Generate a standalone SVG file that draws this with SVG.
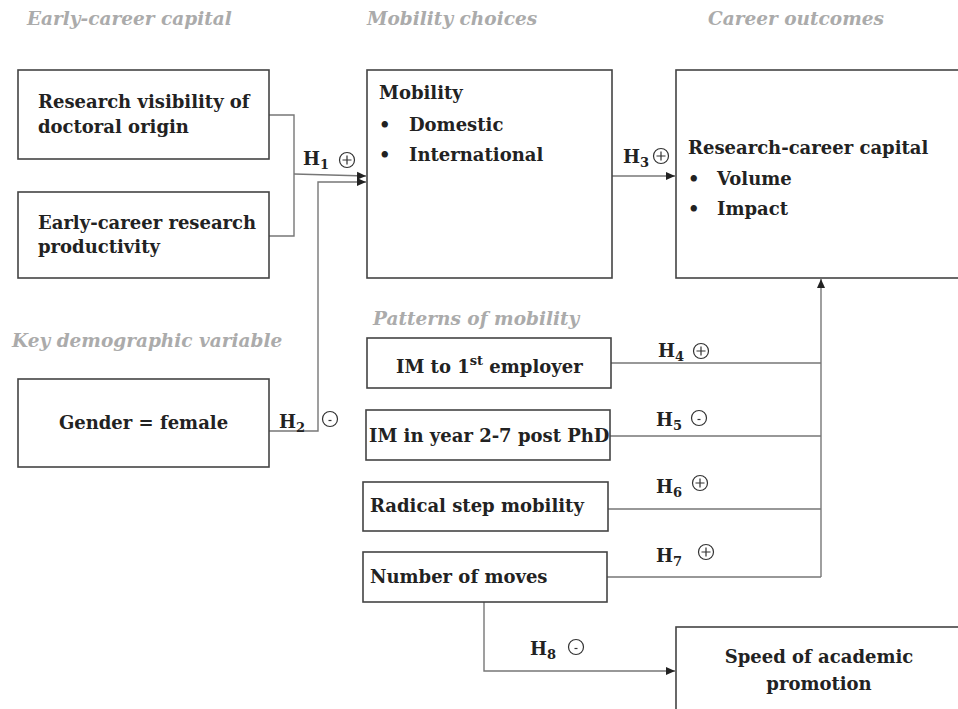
<svg xmlns="http://www.w3.org/2000/svg" width="958" height="709" viewBox="0 0 958 709">
<style>
.box{fill:#fff;stroke:#444;stroke-width:1.6}
.con{fill:none;stroke:#777;stroke-width:1.4}
.t{font-family:"DejaVu Serif","Liberation Serif",serif;font-weight:bold;font-size:18px;fill:#222}
.h{font-family:"DejaVu Serif","Liberation Serif",serif;font-weight:bold;font-style:italic;font-size:18.5px;fill:#ababab}
.sub{font-size:13px}
.sign{fill:none;stroke:#333;stroke-width:1.2}
</style>
<defs>
<marker id="arr" markerWidth="10" markerHeight="10" refX="9" refY="5" orient="auto" markerUnits="userSpaceOnUse">
<path d="M0,1 L9,5 L0,9 Z" fill="#222"/>
</marker>
<g id="plus"><circle r="7.5" class="sign"/><path d="M-4.5,0 H4.5 M0,-4.5 V4.5" class="sign"/></g>
<g id="minus"><circle r="7.5" class="sign"/><path d="M-1.5,1.5 H1.5" class="sign"/></g>
</defs>
<rect width="958" height="709" fill="#fff"/>

<g id="headers">
<text class="h" x="27" y="25">Early-career capital</text>
<text class="h" x="367" y="25">Mobility choices</text>
<text class="h" x="708" y="25">Career outcomes</text>
<text class="h" x="12" y="347">Key demographic variable</text>
<text class="h" x="373" y="325">Patterns of mobility</text>
</g>

<g id="connectors">
<path class="con" d="M269,115 H294 V236 H269"/>
<path class="con" d="M294,174 L366,176" marker-end="url(#arr)"/>
<path class="con" d="M269,431 H318 V182 H366" marker-end="url(#arr)"/>
<path class="con" d="M612,176 H675" marker-end="url(#arr)"/>
<path class="con" d="M611,363 H821 M610,436 H821 M608,509 H821 M607,577 H821"/>
<path class="con" d="M821,577 V279" marker-end="url(#arr)"/>
<path class="con" d="M484,602 V671 H675" marker-end="url(#arr)"/>
</g>

<g id="n_visibility">
<rect class="box" x="18" y="70" width="251" height="89"/>
<text class="t" x="38" y="108">Research visibility of</text>
<text class="t" x="38" y="133">doctoral origin</text>
</g>
<g id="n_productivity">
<rect class="box" x="18" y="192" width="251" height="86"/>
<text class="t" x="38" y="229">Early-career research</text>
<text class="t" x="38" y="253">productivity</text>
</g>
<g id="n_gender">
<rect class="box" x="18" y="379" width="251" height="88"/>
<text class="t" x="143.5" y="429" text-anchor="middle">Gender = female</text>
</g>
<g id="n_mobility">
<rect class="box" x="367" y="70" width="245" height="208"/>
<text class="t" x="379" y="99">Mobility</text>
<text class="t" x="379" y="131">•</text>
<text class="t" x="409" y="131">Domestic</text>
<text class="t" x="379" y="161">•</text>
<text class="t" x="409" y="161">International</text>
</g>
<g id="n_capital">
<rect class="box" x="676" y="70" width="320" height="208"/>
<text class="t" x="688" y="154">Research-career capital</text>
<text class="t" x="688" y="185">•</text>
<text class="t" x="717" y="185">Volume</text>
<text class="t" x="688" y="215">•</text>
<text class="t" x="717" y="215">Impact</text>
</g>
<g id="n_im1">
<rect class="box" x="367" y="338" width="244" height="50"/>
<text class="t" x="396" y="373">IM to 1<tspan class="sub" dy="-8">st</tspan><tspan dy="8"> employer</tspan></text>
</g>
<g id="n_im27">
<rect class="box" x="366" y="410" width="244" height="50"/>
<text class="t" x="369" y="442">IM in year 2-7 post PhD</text>
</g>
<g id="n_radical">
<rect class="box" x="363" y="482" width="245" height="49"/>
<text class="t" x="370" y="512">Radical step mobility</text>
</g>
<g id="n_moves">
<rect class="box" x="363" y="552" width="244" height="50"/>
<text class="t" x="370" y="583">Number of moves</text>
</g>
<g id="n_speed">
<rect class="box" x="676" y="627" width="320" height="120"/>
<text class="t" x="819" y="663" text-anchor="middle">Speed of academic</text>
<text class="t" x="819" y="690" text-anchor="middle">promotion</text>
</g>

<g id="labels">
<text class="t" x="303" y="165">H<tspan class="sub" dy="4">1</tspan></text>
<use href="#plus" x="347" y="160"/>
<text class="t" x="279" y="428">H<tspan class="sub" dy="4">2</tspan></text>
<use href="#minus" x="330" y="419"/>
<text class="t" x="623" y="163">H<tspan class="sub" dy="4">3</tspan></text>
<use href="#plus" x="661" y="156"/>
<text class="t" x="658" y="357">H<tspan class="sub" dy="4">4</tspan></text>
<use href="#plus" x="701" y="351"/>
<text class="t" x="656" y="426">H<tspan class="sub" dy="4">5</tspan></text>
<use href="#minus" x="699" y="418"/>
<text class="t" x="656" y="493">H<tspan class="sub" dy="4">6</tspan></text>
<use href="#plus" x="700" y="483"/>
<text class="t" x="656" y="562">H<tspan class="sub" dy="4">7</tspan></text>
<use href="#plus" x="706" y="552"/>
<text class="t" x="530" y="655">H<tspan class="sub" dy="4">8</tspan></text>
<use href="#minus" x="576" y="647"/>
</g>
</svg>
